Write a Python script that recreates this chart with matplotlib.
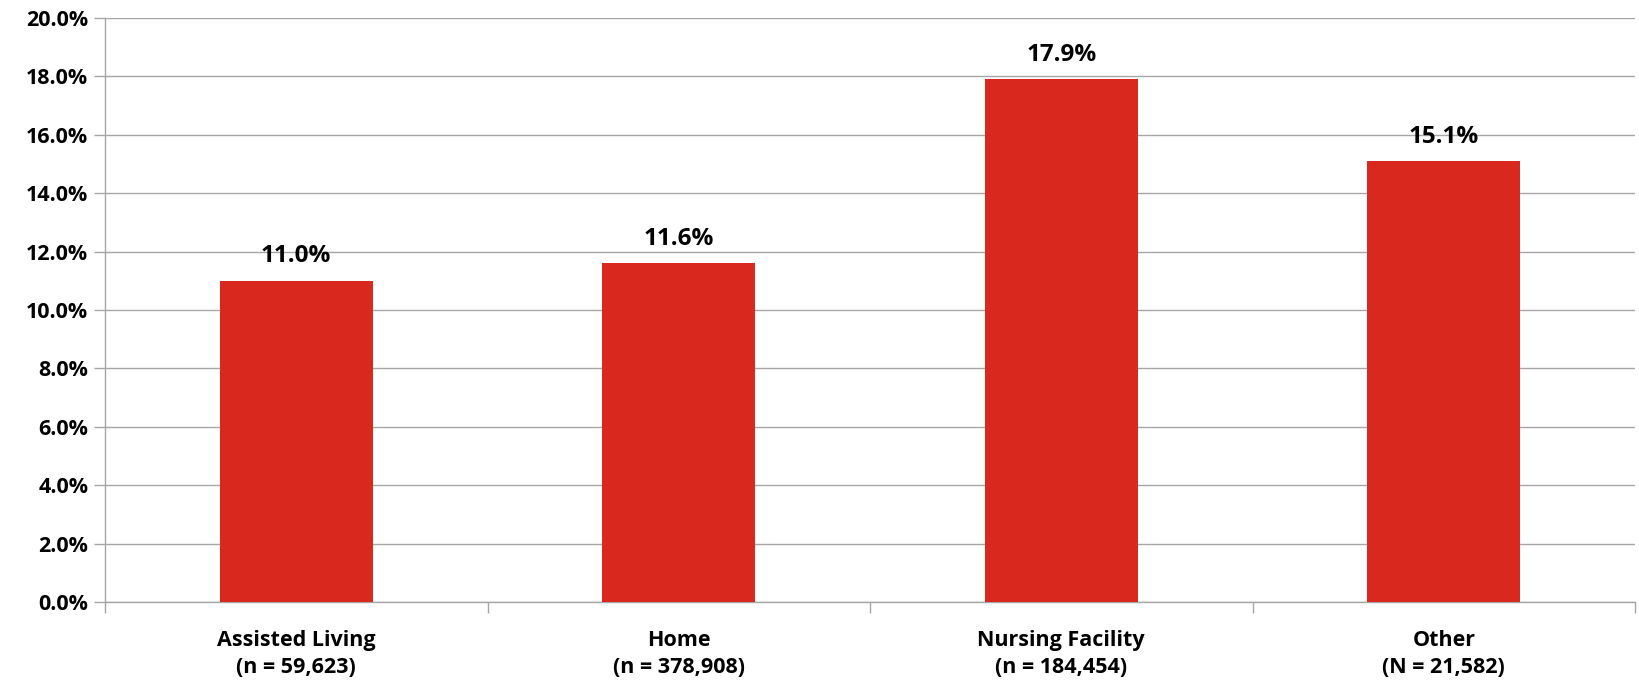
import numpy as np
from matplotlib import pyplot as plt
from matplotlib.ticker import FuncFormatter

categories = ["Assisted Living\n(n = 59,623)", "Home\n(n = 378,908)",
              "Nursing Facility\n(n = 184,454)", "Other\n(N = 21,582)"]
values = [11.0, 11.6, 17.9, 15.1]
yticks = np.arange(0, 20.1, 2.0)

plt.rcParams['font.family'] = ['Open Sans', 'DejaVu Sans']
plt.rcParams['font.weight'] = 'bold'
FS = 15.5

fig = plt.figure(figsize=(16.4, 6.83), dpi=100)
ax = fig.add_axes([105 / 1640, 1 - 602 / 683, 1530 / 1640, 584 / 683])

x = np.arange(len(categories))
bars = ax.bar(x, values, width=0.4, color="#D9291E", zorder=3)

for b, v in zip(bars, values):
    ax.annotate(f"{v:.1f}%", (b.get_x() + b.get_width() / 2, v),
                xytext=(0, 9), textcoords="offset points",
                ha="center", va="bottom", fontsize=17.5, fontweight="bold")

ax.set_ylim(0, 20)
ax.set_xlim(-0.5, len(categories) - 0.5)
ax.set_yticks(yticks)
ax.yaxis.set_major_formatter(FuncFormatter(lambda v, p: f"{v:.1f}%"))
ax.grid(axis="y", color="#A6A6A6", linewidth=1, zorder=0)

# category labels at centers, tick marks at boundaries
ax.set_xticks(x)
ax.set_xticklabels(categories, fontsize=FS, fontweight="bold", linespacing=1.38)
ax.tick_params(axis="x", length=0, pad=20)
ax.set_xticks(np.arange(-0.5, len(categories)), minor=True)
ax.tick_params(axis="x", which="minor", length=8, color="#A6A6A6", width=1)
ax.tick_params(axis="y", length=8, color="#A6A6A6", width=1, labelsize=FS, pad=4)

for s in ["top", "right"]:
    ax.spines[s].set_visible(False)
for s in ["left", "bottom"]:
    ax.spines[s].set_color("#A6A6A6")
    ax.spines[s].set_linewidth(1)

plt.savefig("out.png", dpi=100)
